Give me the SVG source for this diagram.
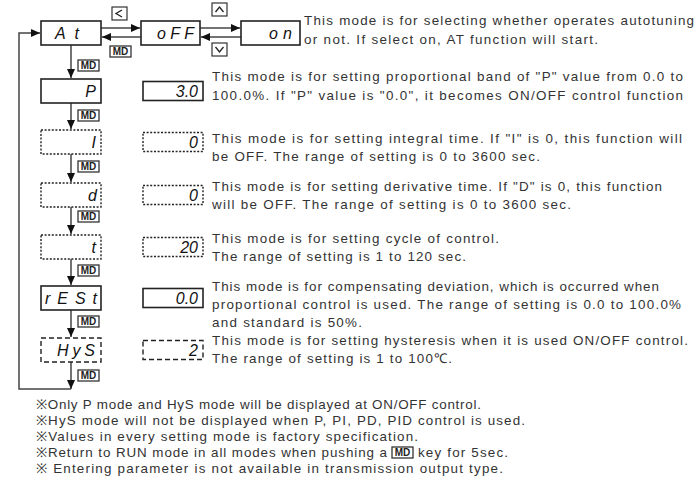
<svg xmlns="http://www.w3.org/2000/svg" width="697" height="490" viewBox="0 0 697 490">
<style>
.box{fill:#fff;stroke:#222;stroke-width:1.6}
.dot{fill:#fff;stroke:#222;stroke-width:1.4;stroke-dasharray:2 1.6}
.dash{fill:#fff;stroke:#222;stroke-width:1.4;stroke-dasharray:5 3}
.seg{font-family:"Liberation Sans",Arial,sans-serif;font-style:italic;font-size:16px;fill:#111}
.desc{font-family:"Liberation Sans",Arial,sans-serif;font-size:13.4px;fill:#333}
.note{font-family:"Liberation Sans",Arial,sans-serif;font-size:13.4px;fill:#333}
.md rect{fill:#fff;stroke:#333;stroke-width:1.3}
.md text{font-family:"Liberation Sans",Arial,sans-serif;font-size:10px;font-weight:bold;fill:#222;text-anchor:middle}
.key rect{fill:#fff;stroke:#333;stroke-width:1.2}
.key polyline{fill:none;stroke:#222;stroke-width:1.3}
.ln{fill:none;stroke:#444;stroke-width:1.5}
</style>
<defs>
<marker id="ah" markerUnits="userSpaceOnUse" markerWidth="10" markerHeight="10" refX="9" refY="4" orient="auto">
<path d="M0,0 L9,4 L0,8 Z" fill="#111"/>
</marker>
<g id="mdlab" class="md"><rect x="0" y="0" width="21" height="11"/><text x="10.5" y="9">MD</text></g>
</defs>

<g id="connectors">
<line class="ln" x1="101" y1="28" x2="140" y2="28" marker-end="url(#ah)"/>
<line class="ln" x1="141" y1="37" x2="102" y2="37" marker-end="url(#ah)"/>
<line class="ln" x1="200" y1="28" x2="240" y2="28" marker-end="url(#ah)"/>
<line class="ln" x1="241" y1="37" x2="201" y2="37" marker-end="url(#ah)"/>
<line class="ln" x1="71" y1="45" x2="71" y2="78" marker-end="url(#ah)"/>
<line class="ln" x1="71" y1="103" x2="71" y2="129" marker-end="url(#ah)"/>
<line class="ln" x1="71" y1="154" x2="71" y2="182" marker-end="url(#ah)"/>
<line class="ln" x1="71" y1="207" x2="71" y2="234" marker-end="url(#ah)"/>
<line class="ln" x1="71" y1="259" x2="71" y2="285" marker-end="url(#ah)"/>
<line class="ln" x1="71" y1="310" x2="71" y2="337" marker-end="url(#ah)"/>
<line class="ln" x1="71" y1="362" x2="71" y2="389" marker-end="url(#ah)"/>
<polyline class="ln" points="71,389 19,389 19,33 40,33" marker-end="url(#ah)"/>
<use href="#mdlab" x="110" y="46"/>
<use href="#mdlab" x="78" y="60"/>
<use href="#mdlab" x="78" y="110"/>
<use href="#mdlab" x="78" y="161"/>
<use href="#mdlab" x="78" y="211"/>
<use href="#mdlab" x="78" y="265"/>
<use href="#mdlab" x="78" y="316"/>
<use href="#mdlab" x="78" y="370"/>
<g class="key"><rect x="112" y="7" width="15" height="13"/><polyline points="122,10 116,13.5 122,17"/></g>
<g class="key"><rect x="212" y="3" width="15" height="13"/><polyline points="215.5,12 219.5,7 223.5,12"/></g>
<g class="key"><rect x="212" y="43" width="15" height="13"/><polyline points="215.5,47 219.5,52 223.5,47"/></g>
</g>

<g id="node-at"><rect class="box" x="41" y="21" width="60" height="24"/><text class="seg" x="55" y="39" textLength="24" lengthAdjust="spacing">At</text></g>
<g id="node-off"><rect class="box" x="141" y="21" width="59" height="24"/><text class="seg" x="157" y="39" textLength="37" lengthAdjust="spacing">oFF</text></g>
<g id="node-on"><rect class="box" x="241" y="21" width="59" height="24"/><text class="seg" x="269" y="39" textLength="23" lengthAdjust="spacing">on</text></g>
<g id="node-p"><rect class="box" x="41" y="79" width="60" height="24"/><text class="seg" x="96" y="97" text-anchor="end">P</text></g>
<g id="node-i"><rect class="dot" x="41" y="130" width="60" height="24"/><text class="seg" x="96" y="148" text-anchor="end">I</text></g>
<g id="node-d"><rect class="dot" x="41" y="183" width="60" height="24"/><text class="seg" x="97" y="201" text-anchor="end">d</text></g>
<g id="node-t"><rect class="dot" x="41" y="235" width="60" height="24"/><text class="seg" x="96" y="253" text-anchor="end">t</text></g>
<g id="node-rest"><rect class="box" x="41" y="286" width="60" height="24"/><text class="seg" x="45" y="304" textLength="52" lengthAdjust="spacing">rESt</text></g>
<g id="node-hys"><rect class="dash" x="41" y="338" width="60" height="24"/><text class="seg" x="57" y="356" textLength="38" lengthAdjust="spacing">HyS</text></g>

<g id="val-p"><rect class="box" x="143" y="81.5" width="60" height="19"/><text class="seg" x="198" y="97" text-anchor="end">3.0</text></g>
<g id="val-i"><rect class="dot" x="143" y="132.5" width="60" height="19"/><text class="seg" x="198" y="148" text-anchor="end">0</text></g>
<g id="val-d"><rect class="dot" x="143" y="185.5" width="60" height="19"/><text class="seg" x="198" y="201" text-anchor="end">0</text></g>
<g id="val-t"><rect class="dot" x="143" y="237.5" width="60" height="19"/><text class="seg" x="198" y="253" text-anchor="end">20</text></g>
<g id="val-rest"><rect class="box" x="143" y="288.5" width="60" height="19"/><text class="seg" x="198" y="304" text-anchor="end">0.0</text></g>
<g id="val-hys"><rect class="dash" x="143" y="340.5" width="60" height="19"/><text class="seg" x="198" y="356" text-anchor="end">2</text></g>

<g id="descriptions">
<text class="desc" x="304" y="25" textLength="390" lengthAdjust="spacing">This mode is for selecting whether operates autotuning</text>
<text class="desc" x="304" y="44" textLength="294" lengthAdjust="spacing">or not. If select on, AT function will start.</text>
<text class="desc" x="212" y="81" textLength="471" lengthAdjust="spacing">This mode is for setting proportional band of "P" value from 0.0 to</text>
<text class="desc" x="212" y="100" textLength="471" lengthAdjust="spacing">100.0%. If "P" value is "0.0", it becomes ON/OFF control function</text>
<text class="desc" x="212" y="143" textLength="470" lengthAdjust="spacing">This mode is for setting integral time. If "I" is 0, this function will</text>
<text class="desc" x="212" y="161" textLength="328" lengthAdjust="spacing">be OFF. The range of setting is 0 to 3600 sec.</text>
<text class="desc" x="212" y="191" textLength="450" lengthAdjust="spacing">This mode is for setting derivative time. If "D" is 0, this function</text>
<text class="desc" x="212" y="209" textLength="359" lengthAdjust="spacing">will be OFF. The range of setting is 0 to 3600 sec.</text>
<text class="desc" x="212" y="243" textLength="287" lengthAdjust="spacing">This mode is for setting cycle of control.</text>
<text class="desc" x="212" y="261" textLength="254" lengthAdjust="spacing">The range of setting is 1 to 120 sec.</text>
<text class="desc" x="212" y="291" textLength="447" lengthAdjust="spacing">This mode is for compensating deviation, which is occurred when</text>
<text class="desc" x="212" y="309" textLength="469" lengthAdjust="spacing">proportional control is used. The range of setting is 0.0 to 100.0%</text>
<text class="desc" x="212" y="327" textLength="150" lengthAdjust="spacing">and standard is 50%.</text>
<text class="desc" x="212" y="345" textLength="476" lengthAdjust="spacing">This mode is for setting hysteresis when it is used ON/OFF control.</text>
<text class="desc" x="212" y="363" textLength="240" lengthAdjust="spacing">The range of setting is 1 to 100℃.</text>
</g>

<g id="notes">
<text class="note" x="36" y="409" textLength="445" lengthAdjust="spacing">※Only P mode and HyS mode will be displayed at ON/OFF control.</text>
<text class="note" x="36" y="425" textLength="489" lengthAdjust="spacing">※HyS mode will not be displayed when P, PI, PD, PID control is used.</text>
<text class="note" x="36" y="441" textLength="382" lengthAdjust="spacing">※Values in every setting mode is factory specification.</text>
<text class="note" x="36" y="457" textLength="351" lengthAdjust="spacing">※Return to RUN mode in all modes when pushing a</text>
<use href="#mdlab" x="392" y="447"/>
<text class="note" x="418" y="457" textLength="90" lengthAdjust="spacing">key for 5sec.</text>
<text class="note" x="36" y="473" textLength="467" lengthAdjust="spacing">※ Entering parameter is not available in transmission output type.</text>
</g>
</svg>
